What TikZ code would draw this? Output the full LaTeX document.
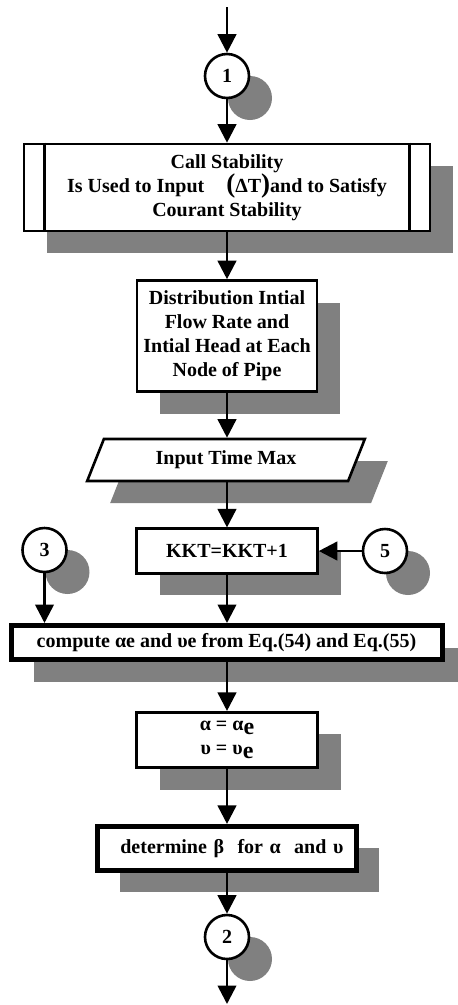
\documentclass[tikz,border=0pt]{standalone}
\usepackage{fontspec}
\setmainfont{Liberation Serif}
\usetikzlibrary{shapes.geometric,shadows,arrows.meta}
\definecolor{shgray}{RGB}{128,128,128}

\begin{document}
\begin{tikzpicture}[x=1pt,y=-1pt,
  font=\fontsize{20}{24}\selectfont\bfseries,
  flow/.style={line width=2.6pt, -{Triangle[length=18.5pt,width=18.5pt]}},
  shade/.style={drop shadow={shadow xshift=23pt, shadow yshift=-22pt, fill=shgray, opacity=1}},
  proc/.style={draw, line width=2.6pt, fill=white, inner sep=0pt, align=center, shade},
  thickproc/.style={proc, line width=5pt},
  conn/.style={circle, draw, line width=2.6pt, fill=white, minimum size=44pt, inner sep=0pt, shade},
  iobox/.style={trapezium, trapezium left angle=62, trapezium right angle=118,
    trapezium stretches, draw, line width=2.6pt, fill=white, inner sep=0pt, shade},
]
\useasboundingbox (0,0) rectangle (458,1005);

\coordinate (start) at (227,7);
\node[conn] (c1) at (227,76) {1};

% predefined process: stability subroutine
\node[proc, minimum width=406pt, minimum height=87pt] (b1) at (227,187.5)
  {Call Stability\\Is Used to Input\hspace{22pt}{\fontsize{27}{24}\selectfont(}ΔT{\fontsize{27}{24}\selectfont)}and to Satisfy\\Courant Stability};
\draw[line width=2.6pt] ([xshift=22pt]b1.north west) -- ([xshift=22pt]b1.south west);
\draw[line width=2.6pt] ([xshift=-22pt]b1.north east) -- ([xshift=-22pt]b1.south east);

\node[proc, minimum width=180pt, minimum height=111pt] (b2) at (227,336)
  {Distribution Intial\\Flow Rate and\\Intial Head at Each\\Node of Pipe};

\node[iobox, minimum width=278pt, minimum height=42pt] (inp) at (226,460) {Input Time Max};

\node[proc, minimum width=181pt, minimum height=44.5pt] (kkt) at (227,551) {KKT=KKT+1};
\node[conn] (c3) at (44.5,550) {3};
\node[conn] (c5) at (385,551) {5};

\node[thickproc, minimum width=431pt, minimum height=34pt] (comp) at (226.5,642.5)
  {compute αe and υe from Eq.(54) and Eq.(55)};

\node[proc, minimum width=181pt, minimum height=55.5pt] (alpha) at (227,740)
  {α = α\raisebox{-4pt}{\fontsize{24}{24}\selectfont e}\\υ = υ\raisebox{-4pt}{\fontsize{24}{24}\selectfont e}};

\node[thickproc, minimum width=259pt, minimum height=43.7pt, text width=234pt, align=right] (det) at (226.5,848.3)
  {determine β~ for α~ and υ};

\node[conn] (c2) at (227,937) {2};
\coordinate (end) at (227,1004);

% connectors
\draw[flow] (start) -- (c1);
\draw[flow] (c1) -- (b1);
\draw[flow] (b1) -- (b2);
\draw[flow] (b2.south) -- (b2.south |- inp.north);
\draw[flow] (inp.south -| kkt.north) -- (kkt.north);
\draw[flow] (c5) -- (kkt.east |- c5);
\draw[flow] (c3) -- (c3 |- comp.north);
\draw[flow] (kkt.south) -- (kkt.south |- comp.north);
\draw[flow] (comp.south -| alpha.north) -- (alpha.north);
\draw[flow] (alpha.south) -- (alpha.south |- det.north);
\draw[flow] (det.south -| c2.north) -- (c2.north);
\draw[flow] (c2) -- (end);
\end{tikzpicture}
\end{document}
